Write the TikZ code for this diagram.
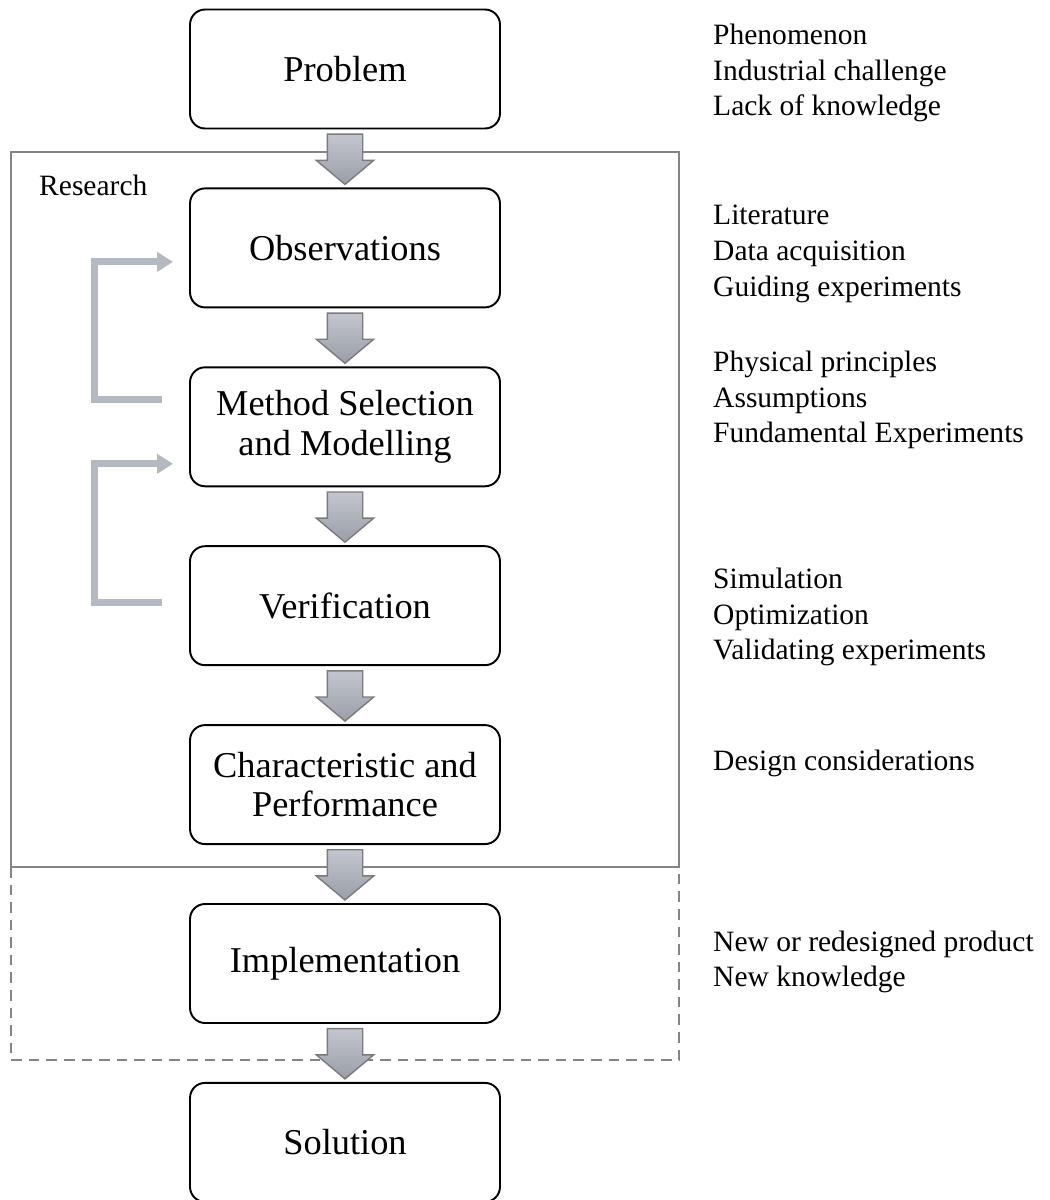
\documentclass[tikz,border=0pt]{standalone}
\usepackage{fontspec}
\setmainfont{Liberation Serif}
\usetikzlibrary{positioning,calc,shapes.arrows,arrows.meta}
\definecolor{arrtop}{HTML}{C3C6CE}
\definecolor{arrbot}{HTML}{9A9EA8}
\definecolor{arrline}{HTML}{7B7B7F}
\definecolor{fbgray}{HTML}{B4B8C0}
\definecolor{framegray}{HTML}{858585}
\begin{document}
\begin{tikzpicture}[x=0.02cm, y=-0.02cm,
    stage/.style={draw, line width=1.1pt, rounded corners=0.3cm, minimum width=6.2cm,
        minimum height=2.38cm, align=center, font=\fontsize{20.7}{22.5}\selectfont},
    flow/.style={single arrow, shape border rotate=270, draw=arrline, line width=0.8pt,
        top color=arrtop, bottom color=arrbot, inner sep=0.34cm, anchor=tail,
        single arrow head extend=0.22cm, minimum height=1cm, single arrow tip angle=100},
    fb/.style={fbgray, line width=0.14cm, -{Triangle[length=0.32cm, width=0.38cm]}},
    note/.style={anchor=west, align=left, font=\fontsize{16.8}{20.4}\selectfont},
    node distance=1.16cm]
    \useasboundingbox (0,0) rectangle (1049,1200);
    % research and implementation frames
    \draw[framegray, line width=0.9pt] (11,152) rectangle (679,867);
    \draw[framegray, line width=0.9pt, dashed, dash pattern=on 6pt off 4pt] (11,867) -- (11,1060) -- (679,1060) -- (679,867);
    \node[anchor=west, font=\fontsize{16.8}{20.4}\selectfont] (res) at (33,185) {Research};
    % stages
    \node[stage] (prob) at (345,69) {Problem};
    \node[stage, below=of prob] (obs) {Observations};
    \node[stage, below=of obs] (meth) {Method Selection\\and Modelling};
    \node[stage, below=of meth] (ver) {Verification};
    \node[stage, below=of ver] (char) {Characteristic and\\Performance};
    \node[stage, below=of char] (impl) {Implementation};
    \node[stage, below=of impl] (sol) {Solution};
    % block arrows
    \node[flow] (a1) at ($(prob.south)!0.5!(obs.north)+(0,-25)$) {};
    \node[flow] (a2) at ($(obs.south)!0.5!(meth.north)+(0,-25)$) {};
    \node[flow] (a3) at ($(meth.south)!0.5!(ver.north)+(0,-25)$) {};
    \node[flow] (a4) at ($(ver.south)!0.5!(char.north)+(0,-25)$) {};
    \node[flow] (a5) at ($(char.south)!0.5!(impl.north)+(0,-25)$) {};
    \node[flow] (a6) at ($(impl.south)!0.5!(sol.north)+(0,-25)$) {};
    % feedback
    \draw[fb] ($(meth.west)+(-27,-27)$) -- ++(-68,0) |- ($(obs.west)+(-16,14)$);
    \draw[fb] ($(ver.west)+(-27,-3)$) -- ++(-68,0) |- ($(meth.west)+(-16,37)$);
    % notes
    \node[note] (n1) at (707,73) {Phenomenon\\Industrial challenge\\Lack of knowledge};
    \node[note] (n2) at (707,254) {Literature\\Data acquisition\\Guiding experiments};
    \node[note] (n3) at (707,400) {Physical principles\\Assumptions\\Fundamental Experiments};
    \node[note] (n4) at (707,617) {Simulation\\Optimization\\Validating experiments};
    \node[note] (n5) at (707,763) {Design considerations};
    \node[note] (n6) at (707,962) {New or redesigned product\\New knowledge};
\end{tikzpicture}
\end{document}
